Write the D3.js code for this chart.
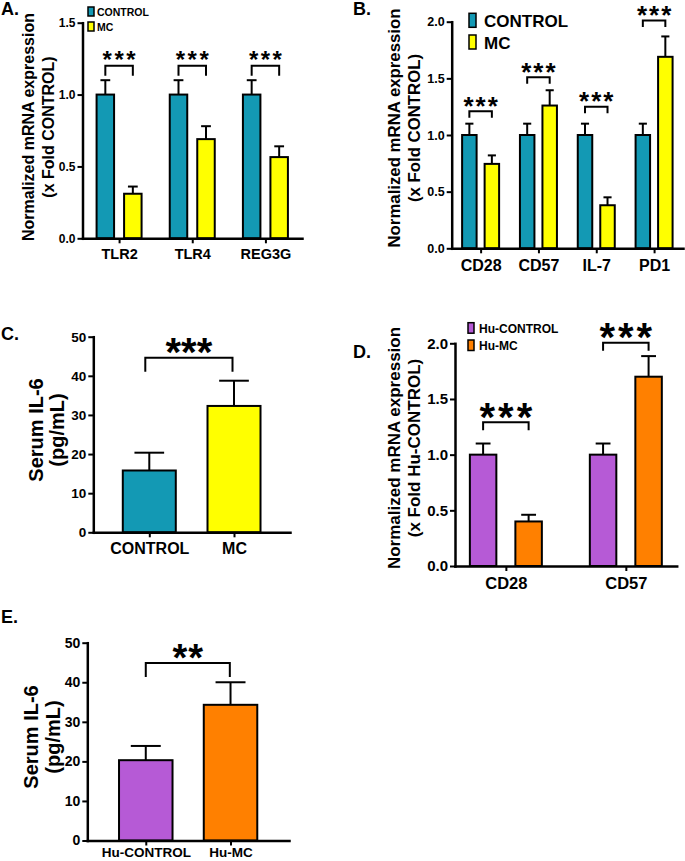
<!DOCTYPE html>
<html>
<head>
<meta charset="utf-8">
<script src="https://cdn.jsdelivr.net/npm/d3@7"></script>
<style>
  body { margin: 0; background: #fff; }
  text { font-family: "Liberation Sans", Arial, sans-serif; font-weight: bold; fill: #000; }
</style>
</head>
<body>
<svg id="fig" width="685" height="861"></svg>
<script>
// ---- data ----
// A. gut genes
var genesA = ["TLR2", "TLR4", "REG3G"];
var seriesA = ["CONTROL", "MC"];
var controlA = [1.0, 1.0, 1.0];
var controlSemA = [0.10, 0.10, 0.10];
var mcA = [0.31, 0.69, 0.565];
var mcSemA = [0.05, 0.09, 0.075];
var sigA = ["***", "***", "***"];
var bracketA = [1.2, 1.2, 1.2];

// B. T cell genes
var genesB = ["CD28", "CD57", "IL-7", "PD1"];
var seriesB = ["CONTROL", "MC"];
var controlB = [1.0, 1.0, 1.0, 1.0];
var controlSemB = [0.10, 0.10, 0.10, 0.10];
var mcB = [0.745, 1.26, 0.38, 1.69];
var mcSemB = [0.075, 0.135, 0.07, 0.18];
var sigB = ["***", "***", "***", "***"];
var bracketB = [1.21, 1.51, 1.25, 2.01];

// C. serum IL-6 (mice)
var groupsC = ["CONTROL", "MC"];
var il6C = [15.8, 32.3];
var il6SemC = [4.55, 6.45];
var sigC = ["***"];
var bracketC = [44.6];

// D. human genes
var genesD = ["CD28", "CD57"];
var seriesD = ["Hu-CONTROL", "Hu-MC"];
var controlD = [1.0, 1.0];
var controlSemD = [0.10, 0.10];
var mcD = [0.40, 1.70];
var mcSemD = [0.06, 0.185];
var sigD = ["***", "***"];
var bracketD = [1.29, 2.005];

// E. serum IL-6 (human)
var groupsE = ["Hu-CONTROL", "Hu-MC"];
var il6E = [20.3, 34.3];
var il6SemE = [3.6, 5.7];
var sigE = ["**"];
var bracketE = [44.9];

var teal = "#1399b4", yellow = "#ffff00", purple = "#b65ad6", orange = "#ff8000";

var svg = d3.select("#fig");

// draws one bar panel; bars = [{cat, ser, v, e, color}]
function panel(p) {
  var g = svg.append("g");
  var y = d3.scaleLinear().domain([0, p.ymax]).range([p.yBase, p.yTop]);
  var x = d3.scalePoint().domain(p.cats).range([p.x0, p.x1]).padding(p.pad);
  var sub = d3.scaleBand().domain(p.series).range([-p.half, p.half]).paddingInner(p.inner);
  var bw = sub.bandwidth();
  var cx = function(d) { return x(d.cat) + sub(d.ser) + bw / 2; };

  // error bars (upper only)
  var eb = g.selectAll(".err").data(p.bars).enter().append("g").attr("class", "err")
    .attr("stroke", "#000").attr("stroke-width", 2);
  eb.append("line")
    .attr("x1", cx).attr("x2", cx)
    .attr("y1", function(d) { return y(d.v); })
    .attr("y2", function(d) { return y(d.v + d.e); });
  eb.append("line")
    .attr("x1", function(d) { return cx(d) - bw * 0.28; })
    .attr("x2", function(d) { return cx(d) + bw * 0.28; })
    .attr("y1", function(d) { return y(d.v + d.e); })
    .attr("y2", function(d) { return y(d.v + d.e); });

  g.selectAll(".bar").data(p.bars).enter().append("rect")
    .attr("x", function(d) { return cx(d) - bw / 2; })
    .attr("y", function(d) { return y(d.v); })
    .attr("width", bw)
    .attr("height", function(d) { return y(0) - y(d.v); })
    .attr("fill", function(d) { return d.color; })
    .attr("stroke", "#000").attr("stroke-width", 2);

  // axes
  var ya = g.append("g").attr("transform", "translate(" + p.x0 + ",0)")
    .call(d3.axisLeft(y).tickValues(p.ticks).tickFormat(d3.format(p.fmt))
      .tickSize(5).tickSizeOuter(0).tickPadding(2));
  var xa = g.append("g").attr("transform", "translate(0," + p.yBase + ")")
    .call(d3.axisBottom(x).tickSize(5).tickSizeOuter(0).tickPadding(p.xPad));
  [ya, xa].forEach(function(a) {
    a.select(".domain").attr("stroke-width", 2.5).attr("stroke-linecap", "square");
    a.selectAll(".tick line").attr("stroke-width", 2);
  });
  ya.selectAll("text").style("font-size", p.tickFont + "px");
  xa.selectAll("text").style("font-size", p.catFont + "px");

  // significance brackets
  p.sig.forEach(function(s) {
    var xl = x(s.cat) + (s.left != null ? s.left : sub(p.series[0]) + bw / 2);
    var xr = x(s.cat2 || s.cat) + (s.right != null ? s.right : sub(p.series[p.series.length - 1]) + bw / 2);
    var yt = y(s.level);
    g.append("path")
      .attr("d", "M" + xl + "," + (yt + p.depth) + "V" + yt + "H" + xr + "V" + (yt + p.depth))
      .attr("fill", "none").attr("stroke", "#000").attr("stroke-width", 2);
    g.append("text")
      .attr("x", (xl + xr) / 2 + p.starLs / 2)
      .attr("y", yt - p.starGap + 0.56 * p.starFont)
      .attr("text-anchor", "middle")
      .style("font-size", p.starFont + "px")
      .style("letter-spacing", p.starLs + "px")
      .text(s.label);
  });

  // y title (two lines)
  var cyT = p.titleY;
  p.title.forEach(function(t, i) {
    g.append("text")
      .attr("transform", "translate(" + p.titleX[i] + "," + cyT + ") rotate(-90)")
      .attr("text-anchor", "middle")
      .style("font-size", p.titleFont + "px")
      .text(t);
  });

  g.append("text").attr("x", p.lab[0]).attr("y", p.lab[1])
    .style("font-size", "18px").text(p.label);

  if (p.legend) {
    p.legend.items.forEach(function(it, i) {
      var ly = p.legend.y + i * p.legend.dy;
      g.append("rect").attr("x", p.legend.x).attr("y", ly)
        .attr("width", p.legend.w).attr("height", p.legend.h)
        .attr("fill", it[1]).attr("stroke", "#000").attr("stroke-width", 1.5);
      g.append("text").attr("x", p.legend.x + p.legend.tx).attr("y", ly + p.legend.h - 0.5)
        .style("font-size", p.legend.font + "px").text(it[0]);
    });
  }
}

function grouped(cats, series, a, ae, b, be, colors) {
  var out = [];
  cats.forEach(function(c, i) {
    out.push({cat: c, ser: series[0], v: a[i], e: ae[i], color: colors[0]});
    out.push({cat: c, ser: series[1], v: b[i], e: be[i], color: colors[1]});
  });
  return out;
}
function single(cats, v, e, colors) {
  return cats.map(function(c, i) { return {cat: c, ser: "all", v: v[i], e: e[i], color: colors[i]}; });
}
function sigs(cats, labels, levels) {
  return cats.map(function(c, i) { return {cat: c, label: labels[i], level: levels[i]}; });
}

// A
panel({
  cats: genesA, series: seriesA, ymax: 1.5, ticks: [0, 0.5, 1.0, 1.5], fmt: ".1f",
  x0: 82.5, x1: 302, yBase: 238.3, yTop: 22.7, pad: 0.5, half: 22.5, inner: 0.364,
  bars: grouped(genesA, seriesA, controlA, controlSemA, mcA, mcSemA, [teal, yellow]),
  sig: sigs(genesA, sigA, bracketA), depth: 10, starFont: 24, starLs: 2.5, starGap: 11,
  tickFont: 12, catFont: 14.5, xPad: 5,
  title: ["Normalized mRNA expression", "(x Fold CONTROL)"], titleX: [34, 54], titleY: 127, titleFont: 16,
  label: "A.", lab: [1, 15],
  legend: {items: [["CONTROL", teal], ["MC", yellow]], x: 88, y: 7, dy: 15, w: 6, h: 9, tx: 9, font: 10.5}
});

// B
panel({
  cats: genesB, series: seriesB, ymax: 2.0, ticks: [0, 0.5, 1.0, 1.5, 2.0], fmt: ".1f",
  x0: 451.7, x1: 683, yBase: 248.3, yTop: 21.7, pad: 0.5, half: 18.5, inner: 0.356,
  bars: grouped(genesB, seriesB, controlB, controlSemB, mcB, mcSemB, [teal, yellow]),
  sig: sigs(genesB, sigB, bracketB), depth: 6.5, starFont: 26, starLs: 2, starGap: 11,
  tickFont: 12.5, catFont: 16, xPad: 6,
  title: ["Normalized mRNA expression", "(x Fold CONTROL)"], titleX: [400, 420], titleY: 128, titleFont: 16.8,
  label: "B.", lab: [353, 15],
  legend: {items: [["CONTROL", teal], ["MC", yellow]], x: 469, y: 13.3, dy: 21.7, w: 7, h: 14, tx: 15, font: 17}
});

// C
panel({
  cats: groupsC, series: ["all"], ymax: 50, ticks: [0, 10, 20, 30, 40, 50], fmt: "d",
  x0: 93.3, x1: 290, yBase: 532.3, yTop: 336.7, pad: 0.661, half: 26.5, inner: 0,
  bars: single(groupsC, il6C, il6SemC, [teal, yellow]),
  sig: [{cat: groupsC[0], cat2: groupsC[1], left: -4, right: -1.5, label: sigC[0], level: bracketC[0]}],
  depth: 14, starFont: 40, starLs: 0, starGap: 14,
  tickFont: 13.5, catFont: 16, xPad: 5,
  title: ["Serum IL-6", "(pg/mL)"], titleX: [43, 64], titleY: 430, titleFont: 20,
  label: "C.", lab: [1, 340]
});

// D
panel({
  cats: genesD, series: seriesD, ymax: 2.0, ticks: [0, 0.5, 1.0, 1.5, 2.0], fmt: ".1f",
  x0: 455, x1: 676.7, yBase: 566, yTop: 343.3, pad: 0.424, half: 36, inner: 0.418,
  bars: grouped(genesD, seriesD, controlD, controlSemD, mcD, mcSemD, [purple, orange]),
  sig: sigs(genesD, sigD, bracketD), depth: 8, starFont: 40, starLs: 3, starGap: 14,
  tickFont: 15, catFont: 16.5, xPad: 6,
  title: ["Normalized mRNA expression", "(x Fold Hu-CONTROL)"], titleX: [400, 420], titleY: 448, titleFont: 17,
  label: "D.", lab: [353, 358],
  legend: {items: [["Hu-CONTROL", purple], ["Hu-MC", orange]], x: 468, y: 322.7, dy: 17.3, w: 6, h: 10.5, tx: 11, font: 12}
});

// E
panel({
  cats: groupsE, series: ["all"], ymax: 50, ticks: [0, 10, 20, 30, 40, 50], fmt: "d",
  x0: 87.3, x1: 289, yBase: 840.5, yTop: 642.7, pad: 0.69, half: 26.75, inner: 0,
  bars: single(groupsE, il6E, il6SemE, [purple, orange]),
  sig: [{cat: groupsE[0], cat2: groupsE[1], left: 0, right: -0.7, label: sigE[0], level: bracketE[0]}],
  depth: 14, starFont: 38, starLs: 1, starGap: 12.7,
  tickFont: 14, catFont: 13.5, xPad: 1.5,
  title: ["Serum IL-6", "(pg/mL)"], titleX: [38, 60], titleY: 737, titleFont: 20,
  label: "E.", lab: [1, 623]
});
</script>
</body>
</html>
